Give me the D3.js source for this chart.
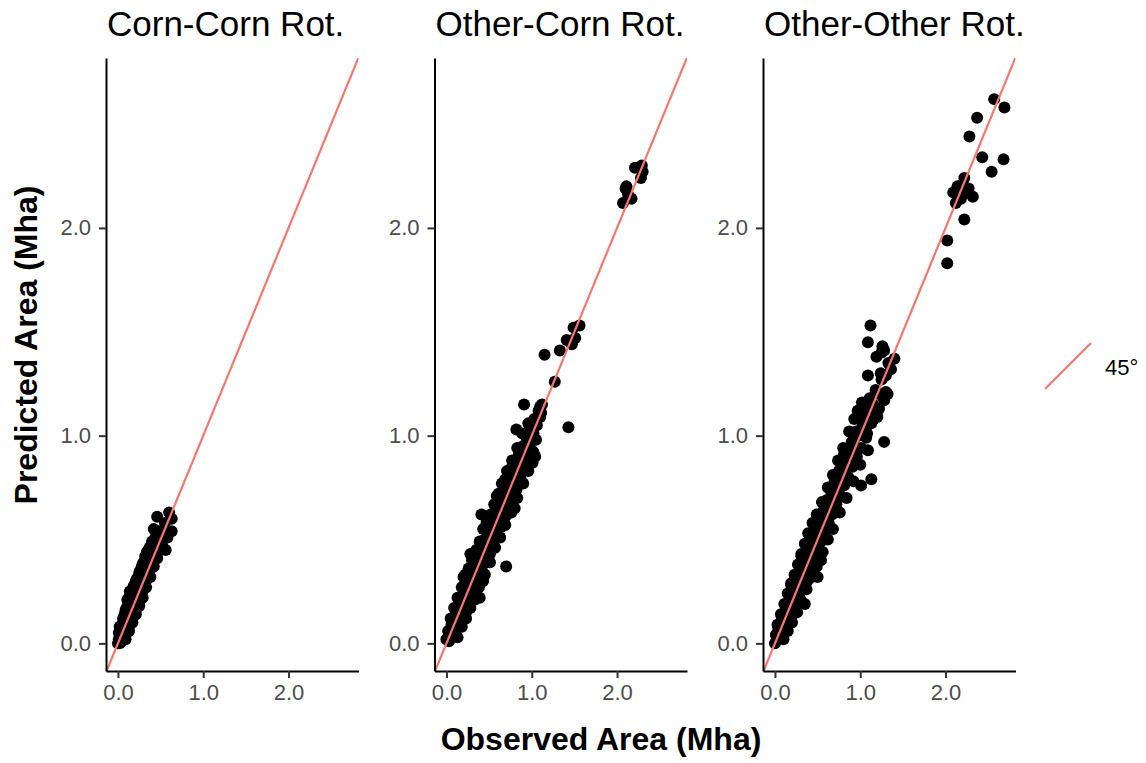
<!DOCTYPE html>
<html>
<head>
<meta charset="utf-8">
<script src="https://cdn.jsdelivr.net/npm/d3@7"></script>
<style>
  html, body { margin: 0; padding: 0; background: #fff; }
  svg { display: block; font-family: "Liberation Sans", Arial, sans-serif; }
</style>
</head>
<body>
<svg id="chart" width="1146" height="763"></svg>
<script>
// Facet labels
const panelTitles = ["Corn-Corn Rot.", "Other-Corn Rot.", "Other-Other Rot."];

// [observed, predicted] area in Mha for each rotation
const cornCorn = [
  [0.00,0.00],[0.01,0.02],[0.02,0.00],[0.01,0.05],[0.03,0.03],[0.04,0.01],[0.03,0.07],[0.05,0.05],
  [0.06,0.02],[0.05,0.09],[0.07,0.06],[0.08,0.04],[0.07,0.11],[0.09,0.08],[0.10,0.05],[0.08,0.14],
  [0.11,0.10],[0.12,0.07],[0.10,0.17],[0.13,0.12],[0.14,0.09],[0.12,0.20],[0.15,0.14],[0.16,0.11],
  [0.13,0.22],[0.17,0.17],[0.18,0.13],[0.15,0.24],[0.19,0.19],[0.20,0.15],[0.17,0.26],[0.21,0.21],
  [0.22,0.17],[0.19,0.28],[0.23,0.24],[0.24,0.19],[0.21,0.30],[0.25,0.26],[0.26,0.21],[0.24,0.32],
  [0.27,0.28],[0.28,0.24],[0.26,0.35],[0.29,0.31],[0.30,0.26],[0.28,0.37],[0.31,0.33],[0.32,0.29],
  [0.30,0.39],[0.33,0.35],[0.34,0.31],[0.32,0.42],[0.35,0.38],[0.36,0.33],[0.34,0.44],[0.37,0.40],
  [0.38,0.36],[0.37,0.46],[0.39,0.42],[0.40,0.38],[0.40,0.49],[0.42,0.44],[0.43,0.41],[0.45,0.47],
  [0.47,0.44],[0.49,0.49],[0.52,0.47],[0.56,0.45],[0.42,0.55],[0.46,0.61],[0.53,0.53],[0.55,0.58],
  [0.60,0.63],[0.63,0.60],[0.63,0.54],[0.58,0.51],[0.50,0.52],
  [0.02,0.08],[0.06,0.12],[0.09,0.16],[0.11,0.21],[0.14,0.25],[0.18,0.27],[0.22,0.31],[0.25,0.34],
  [0.29,0.38],[0.33,0.41],[0.36,0.45],[0.39,0.47],[0.44,0.51],[0.48,0.54],[0.09,0.02],[0.13,0.06],
  [0.17,0.10],[0.21,0.14],[0.25,0.18],[0.29,0.22],[0.33,0.27],[0.38,0.32],[0.42,0.37],[0.46,0.41]
];

const otherCorn = [
  [0.00,0.02],[0.02,0.06],[0.03,0.01],[0.04,0.04],[0.06,0.09],[0.07,0.03],[0.08,0.07],[0.10,0.12],
  [0.11,0.06],[0.12,0.10],[0.14,0.16],[0.15,0.09],[0.16,0.13],[0.17,0.20],[0.19,0.12],[0.20,0.17],
  [0.21,0.24],[0.23,0.15],[0.24,0.21],[0.25,0.28],[0.27,0.19],[0.28,0.25],[0.29,0.32],[0.31,0.22],
  [0.32,0.29],[0.33,0.37],[0.35,0.26],[0.36,0.33],[0.37,0.41],[0.39,0.30],[0.40,0.37],[0.41,0.45],
  [0.43,0.34],[0.44,0.41],[0.45,0.50],[0.47,0.39],[0.48,0.46],[0.49,0.54],[0.51,0.43],[0.52,0.50],
  [0.54,0.58],[0.55,0.47],[0.57,0.55],[0.58,0.63],[0.60,0.52],[0.61,0.59],[0.63,0.67],[0.64,0.56],
  [0.66,0.64],[0.67,0.72],[0.69,0.61],[0.70,0.68],[0.72,0.77],[0.73,0.65],[0.75,0.73],[0.76,0.82],
  [0.78,0.70],[0.79,0.78],[0.81,0.86],[0.82,0.74],[0.84,0.83],[0.85,0.91],[0.87,0.79],[0.88,0.87],
  [0.90,0.95],[0.91,0.84],[0.93,0.92],[0.94,0.99],[0.96,0.89],[0.97,0.96],[0.99,1.04],[1.00,0.93],
  [1.02,1.01],[1.03,1.08],[1.05,0.98],[1.06,1.05],[1.08,1.12],[1.10,1.09],[1.12,1.15],
  [0.05,0.12],[0.09,0.17],[0.13,0.22],[0.18,0.27],[0.22,0.33],[0.26,0.36],[0.30,0.40],[0.35,0.45],
  [0.39,0.49],[0.43,0.55],[0.47,0.58],[0.52,0.62],[0.56,0.67],[0.61,0.72],[0.65,0.77],[0.71,0.83],
  [0.77,0.88],[0.83,0.94],[0.89,1.01],[0.96,1.06],[0.13,0.03],[0.18,0.08],[0.23,0.12],[0.28,0.17],
  [0.33,0.21],[0.38,0.27],[0.45,0.33],[0.51,0.39],[0.57,0.46],[0.63,0.51],[0.69,0.57],[0.76,0.63],
  [0.83,0.70],[0.90,0.77],[0.96,0.83],[1.04,0.90],
  [0.70,0.37],[1.43,1.04],[1.15,1.39],[1.27,1.26],[0.91,1.15],[1.33,1.41],[1.41,1.46],[1.47,1.44],
  [1.49,1.52],[1.56,1.53],[1.51,1.47],[0.82,1.03],[0.59,0.71],[0.41,0.62],[0.69,0.79],[0.75,0.84],
  [0.80,0.65],[0.43,0.30],[0.39,0.22],[0.20,0.32],[0.28,0.43],[1.02,0.92],[1.01,0.87],[1.10,1.14],
  [1.11,1.11],
  [2.21,2.29],[2.29,2.30],[2.30,2.27],[2.28,2.24],[2.10,2.19],[2.17,2.14],[2.07,2.12],[2.13,2.16],
  [2.11,2.20]
];

const otherOther = [
  [0.00,0.00],[0.01,0.04],[0.03,0.02],[0.04,0.07],[0.05,0.03],[0.07,0.06],[0.08,0.11],[0.09,0.05],
  [0.11,0.09],[0.12,0.15],[0.13,0.08],[0.15,0.13],[0.16,0.19],[0.17,0.11],[0.19,0.17],[0.20,0.23],
  [0.21,0.14],[0.23,0.21],[0.24,0.28],[0.25,0.18],[0.27,0.25],[0.28,0.32],[0.29,0.22],[0.31,0.29],
  [0.32,0.37],[0.33,0.26],[0.35,0.33],[0.36,0.41],[0.38,0.30],[0.39,0.37],[0.40,0.46],[0.42,0.35],
  [0.43,0.42],[0.44,0.50],[0.46,0.39],[0.47,0.47],[0.48,0.55],[0.50,0.43],[0.51,0.51],[0.52,0.59],
  [0.54,0.49],[0.55,0.56],[0.57,0.64],[0.58,0.53],[0.60,0.61],[0.61,0.69],[0.63,0.58],[0.64,0.66],
  [0.66,0.73],[0.67,0.62],[0.69,0.70],[0.70,0.78],[0.72,0.67],[0.73,0.75],[0.75,0.83],[0.77,0.71],
  [0.78,0.80],[0.80,0.88],[0.81,0.76],[0.83,0.85],[0.85,0.92],[0.86,0.80],[0.88,0.90],[0.90,0.97],
  [0.91,0.85],[0.93,0.95],[0.95,1.02],[0.96,0.90],[0.98,1.00],[1.00,1.08],[1.01,0.94],[1.03,1.05],
  [1.05,1.13],[1.07,0.99],[1.09,1.10],[1.11,1.18],[1.13,1.06],[1.15,1.15],[1.18,1.22],[1.20,1.12],
  [1.22,1.20],[1.25,1.27],[1.28,1.17],[1.30,1.29],[1.33,1.35],
  [0.03,0.09],[0.07,0.14],[0.11,0.19],[0.15,0.24],[0.19,0.28],[0.23,0.33],[0.27,0.38],[0.31,0.43],
  [0.35,0.48],[0.39,0.53],[0.44,0.58],[0.49,0.62],[0.55,0.68],[0.62,0.75],[0.68,0.81],[0.74,0.88],
  [0.80,0.94],[0.87,1.02],[0.93,1.08],[1.02,1.16],[0.10,0.02],[0.15,0.06],[0.20,0.10],[0.26,0.15],
  [0.31,0.20],[0.37,0.26],[0.43,0.32],[0.49,0.37],[0.56,0.44],[0.62,0.50],[0.68,0.55],[0.76,0.63],
  [0.84,0.70],[0.92,0.78],[1.00,0.86],[1.08,1.01],[1.16,1.08],[1.22,1.13],
  [1.12,1.53],[1.09,1.45],[1.26,1.43],[1.40,1.37],[1.25,1.40],[1.36,1.32],[1.09,1.29],[1.30,1.21],
  [0.99,1.12],[1.19,1.38],[1.28,1.41],[1.24,1.30],[1.28,0.97],[1.01,0.76],[1.13,0.79],[1.32,1.20],
  [1.20,1.09],[0.97,1.12],[1.09,0.93],[0.81,0.91],[0.85,0.79],[0.70,0.64],[0.74,0.75],[0.48,0.58],
  [0.54,0.40],[0.50,0.32],[0.35,0.19],[0.31,0.42],[0.42,0.48],[0.19,0.29],
  [2.57,2.62],[2.69,2.58],[2.37,2.53],[2.28,2.44],[2.43,2.34],[2.68,2.33],[2.54,2.27],[2.22,2.24],
  [2.14,2.20],[2.09,2.17],[2.27,2.19],[2.32,2.15],[2.18,2.14],[2.12,2.12],[2.22,2.04],[2.02,1.94],
  [2.02,1.83],[2.25,2.17],[2.20,2.21]
];

const panelData = [cornCorn, otherCorn, otherOther];
const tickValues = [0, 1, 2];
const xDomain = [-0.14, 2.82];
const yDomain = [-0.133, 2.818];
const refLine = [[-1, -1], [4, 4]];   // 1:1 reference (45°)
const legendLabel = "45°";

// Layout
const panelLeft = [106, 434.5, 763];
const panelW = 252.5;
const panelTop = 58, panelBottom = 671;
const lineColor = "#F8766D";

const svg = d3.select("#chart");

const y = d3.scaleLinear().domain(yDomain).range([panelBottom, panelTop]);

panelData.forEach((pts, i) => {
  const x0 = panelLeft[i];
  const x = d3.scaleLinear().domain(xDomain).range([x0, x0 + panelW]);

  const clipId = "clip" + i;
  svg.append("clipPath").attr("id", clipId)
    .append("rect").attr("x", x0).attr("y", panelTop)
    .attr("width", panelW).attr("height", panelBottom - panelTop);

  const g = svg.append("g").attr("clip-path", `url(#${clipId})`);

  g.selectAll("circle").data(pts).join("circle")
    .attr("cx", d => x(d[0]))
    .attr("cy", d => y(d[1]))
    .attr("r", 6)
    .attr("fill", "#000");

  g.append("path")
    .attr("d", d3.line().x(d => x(d[0])).y(d => y(d[1]))(refLine))
    .attr("stroke", lineColor).attr("stroke-width", 2.2).attr("fill", "none");

  // axes
  const ax = svg.append("g").attr("transform", `translate(0,${panelBottom})`)
    .call(d3.axisBottom(x).tickValues(tickValues).tickFormat(d3.format(".1f"))
      .tickSize(7).tickSizeOuter(0).tickPadding(6));
  const ay = svg.append("g").attr("transform", `translate(${x0},0)`)
    .call(d3.axisLeft(y).tickValues(tickValues).tickFormat(d3.format(".1f"))
      .tickSize(7).tickSizeOuter(0).tickPadding(8));
  [ax, ay].forEach(a => {
    a.select(".domain").attr("stroke", "#000").attr("stroke-width", 2);
    a.selectAll(".tick line").attr("stroke", "#333").attr("stroke-width", 2);
    a.selectAll(".tick text").attr("fill", "#4D4D4D")
      .style("font-size", "22px").style("font-family", "Liberation Sans, Arial, sans-serif");
  });

  // facet title
  svg.append("text")
    .attr("x", x0 + 1).attr("y", 36)
    .style("font-size", "35px")
    .attr("fill", "#000")
    .text(panelTitles[i]);
});

// axis titles
svg.append("text")
  .attr("x", 601).attr("y", 750)
  .attr("text-anchor", "middle")
  .style("font-size", "32px").style("font-weight", "bold")
  .text("Observed Area (Mha)");

svg.append("text")
  .attr("transform", "translate(37,345) rotate(-90)")
  .attr("text-anchor", "middle")
  .style("font-size", "32px").style("font-weight", "bold")
  .text("Predicted Area (Mha)");

// legend
svg.append("line")
  .attr("x1", 1045).attr("y1", 389).attr("x2", 1091).attr("y2", 343)
  .attr("stroke", lineColor).attr("stroke-width", 2.2);
svg.append("text")
  .attr("x", 1105).attr("y", 375)
  .style("font-size", "22px")
  .text(legendLabel);
</script>
</body>
</html>
